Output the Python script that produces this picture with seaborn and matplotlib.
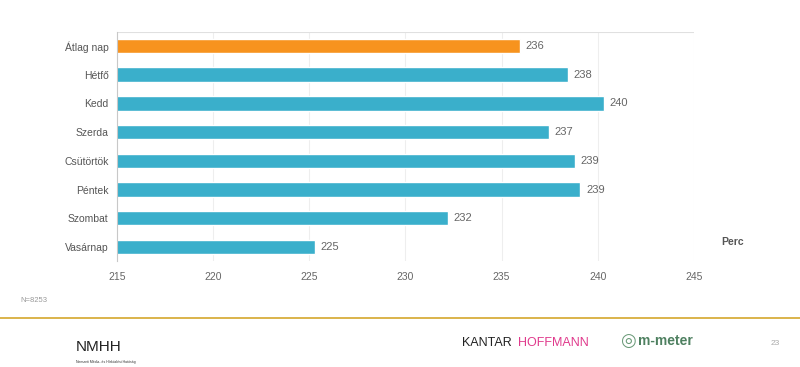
import numpy as np
import pandas as pd
import matplotlib.pyplot as plt
import seaborn as sns

# Data (minutes per day)
days = ['Átlag nap', 'Hétfő', 'Kedd', 'Szerda', 'Csütörtök', 'Péntek', 'Szombat', 'Vasárnap']
minutes = [235.95, 238.45, 240.3, 237.45, 238.8, 239.1, 232.2, 225.3]
labels = ['236', '238', '240', '237', '239', '239', '232', '225']
x_ticks = [215, 220, 225, 230, 235, 240, 245]

df = pd.DataFrame({'day': days, 'minutes': minutes})
colors = ['#F7931E'] + ['#3AAFCB'] * (len(days) - 1)

sns.set_style('white')
plt.rcParams['font.family'] = ['Liberation Sans', 'DejaVu Sans']

fig = plt.figure(figsize=(8, 3.67), dpi=100)
ax = fig.add_axes([0.146, 0.288, 0.7215, 0.626])

sns.barplot(data=df, x='minutes', y='day', hue='day', palette=colors,
            legend=False, width=0.5, saturation=1, ax=ax, orient='h')

ax.set_xlim(215, 245)
ax.set_ylim(len(days) - 0.5, -0.5)
ax.set_xticks(x_ticks)
ax.set_xticklabels([str(t) for t in x_ticks], fontsize=7.5, color='#666666')
ax.tick_params(axis='x', length=0, pad=8)
ax.tick_params(axis='y', length=0, labelsize=7.5, labelcolor='#555555', pad=6)
ax.set_xlabel('')
ax.set_ylabel('')

# vertical gridlines
for t in x_ticks:
    ax.axvline(t, color='#EEEEEE', lw=0.8, zorder=0)
ax.axhline(-0.5, color='#E0E0E0', lw=1.5, zorder=0)

for s in ['top', 'right', 'bottom']:
    ax.spines[s].set_visible(False)
ax.spines['left'].set_color('#C8C8C8')
ax.spines['left'].set_linewidth(0.8)
# small ticks between categories on left axis
ax.set_yticks(np.arange(-0.5, len(days), 1), minor=True)
ax.tick_params(axis='y', which='minor', length=3, color='#D0D0D0', direction='out')

for i, (v, lab) in enumerate(zip(minutes, labels)):
    ax.text(v + 0.3, i, lab, va='center', ha='left', fontsize=8, color='#666666')

fig.text(0.916, 0.34, 'Perc', fontsize=7.5, fontweight='bold', color='#555555',
         ha='center', va='center')

# footer
fig.text(0.025, 0.182, 'N=8253', fontsize=5.5, color='#999999', va='center')
fig.add_artist(plt.Line2D([0.0, 1.0], [0.133, 0.133], color='#D4A72C', lw=1.2,
                          transform=fig.transFigure))
fig.text(0.095, 0.055, 'NMHH', fontsize=11, color='#222222', va='center')
fig.text(0.095, 0.013, 'Nemzeti Média- és Hírközlési Hatóság', fontsize=2.5,
         color='#333333', va='center')
fig.text(0.577, 0.065, 'KANTAR', fontsize=9, color='#222222', va='center')
fig.text(0.648, 0.065, 'HOFFMANN', fontsize=9, color='#E03A8C', va='center')
fig.text(0.775, 0.07, '◎', fontsize=13, color='#6A9A78', va='center',
         family=['DejaVu Sans'])
fig.text(0.798, 0.07, 'm-meter', fontsize=10, fontweight='bold', color='#4E8060',
         va='center')
fig.text(0.963, 0.065, '23', fontsize=6, color='#AAAAAA', va='center')

fig.savefig('out.png', dpi=100)
